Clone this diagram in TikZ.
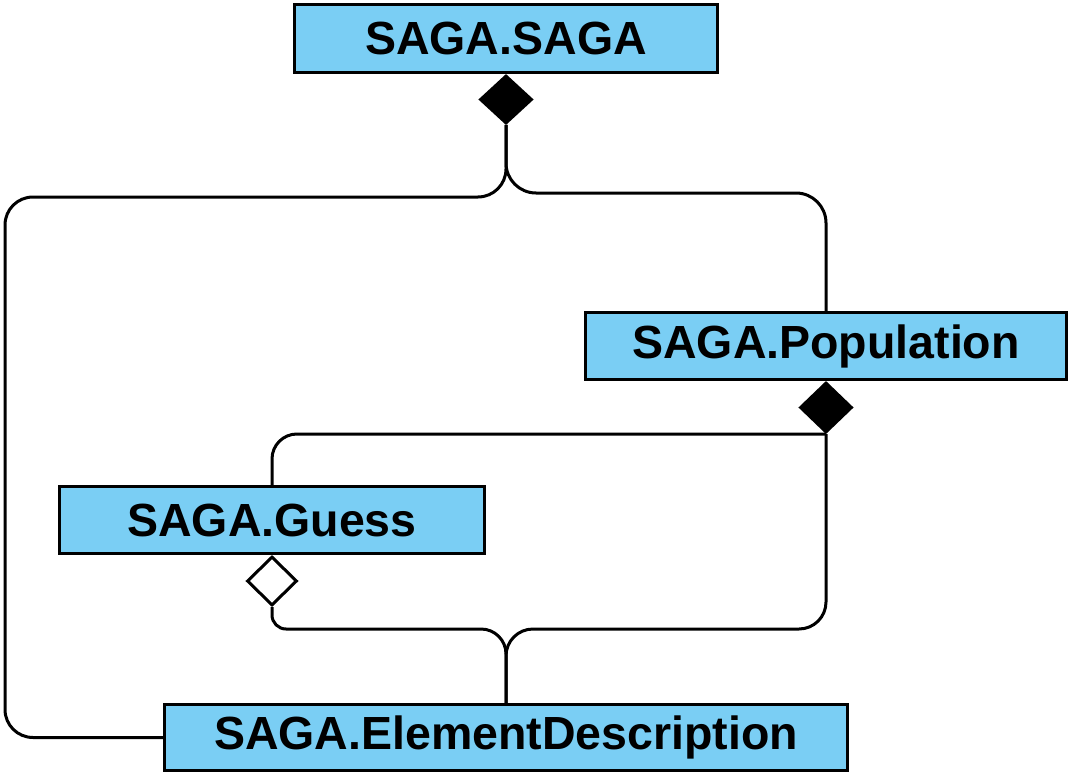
\documentclass[tikz,border=0pt]{standalone}
\usepackage{fontspec}
\setmainfont{Liberation Sans}
\usetikzlibrary{shapes.geometric}
\definecolor{clsblue}{RGB}{122,206,244}
\begin{document}
\begin{tikzpicture}[x=1pt,y=-1pt,
  cls/.style={draw=black, line width=3pt, fill=clsblue, inner sep=0pt,
    font=\fontsize{46.5}{50}\selectfont\bfseries},
  agg/.style={diamond, draw=black, line width=3pt, inner sep=0pt, anchor=north},
  conn/.style={draw=black, line width=3pt}]
\useasboundingbox (0,0) rectangle (1073,781);
% classes
\node[cls, minimum width=423pt, minimum height=68pt] (saga) at (506,38.5) {SAGA.SAGA};
\node[cls, minimum width=481pt, minimum height=67pt] (pop) at (826,346) {SAGA.Population};
\node[cls, minimum width=425pt, minimum height=67pt] (guess) at (272,520) {SAGA.Guess};
\node[cls, minimum width=683pt, minimum height=66pt] (elem) at (506,737.5) {SAGA.ElementDescription};
% aggregation diamonds
\node[agg, fill=black, minimum width=52pt, minimum height=48pt] (d1) at (saga.south) {};
\node[agg, fill=black, minimum width=52pt, minimum height=50pt] (d2) at (pop.south) {};
\node[agg, fill=white, minimum width=50pt, minimum height=49pt] (d3) at (guess.south) {};
% connectors
\draw[conn, rounded corners=28pt] (d1.south) -- (d1.south |- 0,197) -- (5,197) -- (elem.west -| 5,0) -- (elem.west);
\draw[conn, rounded corners=30pt] (d1.south) -- (d1.south |- 0,193) -- (pop.north |- 0,193) -- (pop.north);
\draw[conn, rounded corners=25pt] (d2.south) -- (guess.north |- d2.south) -- (guess.north);
\draw[conn, rounded corners=27pt] (d2.south) -- (d2.south |- 0,629) -- (elem.north |- 0,629) -- (elem.north);
\draw[conn] (d3.south) [rounded corners=14pt] -- (d3.south |- 0,629) [rounded corners=25pt] -- (elem.north |- 0,629) -- (elem.north);
\end{tikzpicture}
\end{document}
